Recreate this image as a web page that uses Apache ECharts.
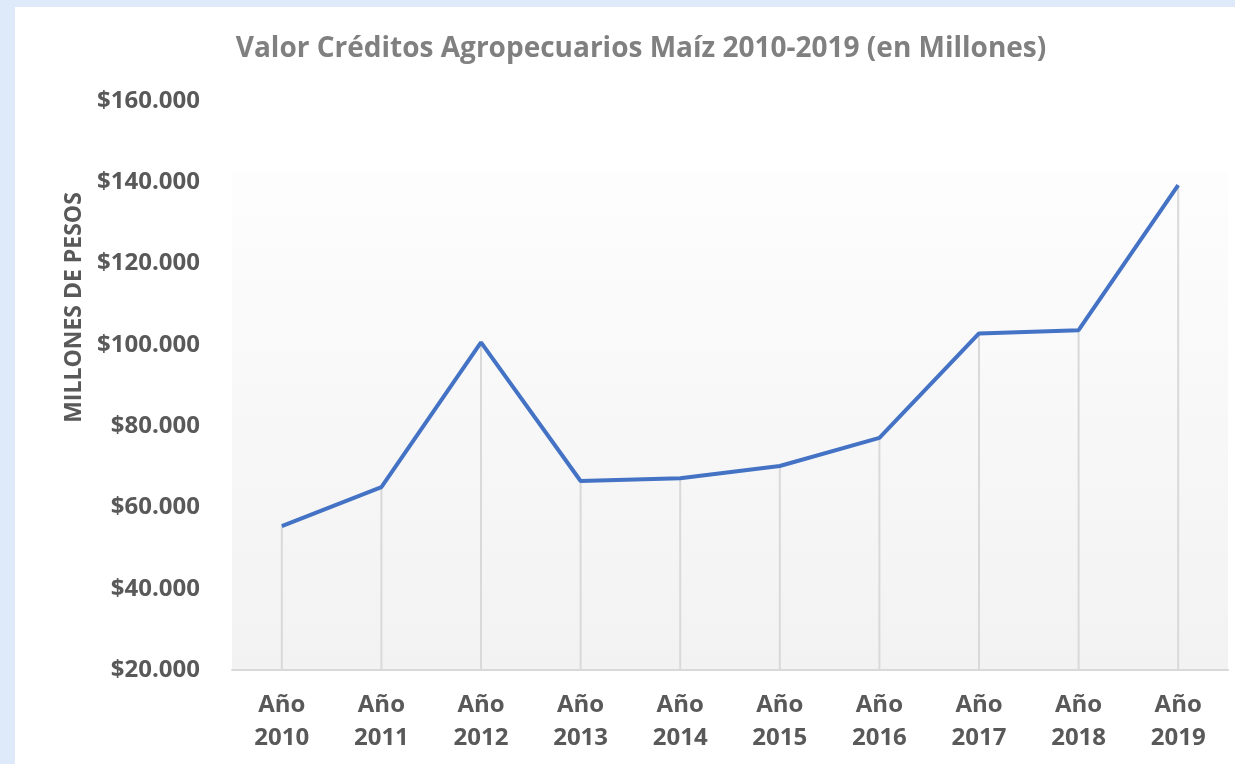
<!DOCTYPE html>
<html lang="es">
<head>
    <meta charset="UTF-8">
    <title>Valor Créditos Agropecuarios Maíz</title>
    <script src="https://cdn.jsdelivr.net/npm/echarts@6/dist/echarts.min.js"></script>
    <style>
        html, body {
            margin: 0;
            padding: 0;
            background-color: #dee9f9;
        }
        .panel {
            position: absolute;
            left: 15px;
            top: 7px;
            width: 1220px;
            height: 757px;
            background-color: #ffffff;
        }
        #main {
            position: absolute;
            left: 0;
            top: 0;
            width: 1235px;
            height: 764px;
        }
    </style>
</head>
<body>
<div class="panel"></div>
<div id="main"></div>

<script>
    // datos (millones de pesos)
    var years = ['2010', '2011', '2012', '2013', '2014', '2015', '2016', '2017', '2018', '2019'];
    var valores = [55400, 65000, 100600, 66500, 67200, 70200, 77100, 102800, 103600, 139300];
    var yTicks = [20000, 40000, 60000, 80000, 100000, 120000, 140000, 160000];

    var categorias = years.map(function (y) { return 'Año\n' + y; });

    function formatoPesos(v) {
        return '$' + String(v).replace(/\B(?=(\d{3})+(?!\d))/g, '.');
    }

    var myChart = echarts.init(document.getElementById('main'));

    var option = {
        animation: false,
        title: {
            text: 'Valor Créditos Agropecuarios Maíz 2010-2019 (en Millones)',
            left: 636,
            top: 30,
            textAlign: 'center',
            textStyle: {
                fontFamily: 'Open Sans',
                fontWeight: 'bold',
                fontSize: 28,
                color: '#808080'
            }
        },
        grid: {
            left: 232,
            right: 7,
            top: 101,
            bottom: 94,
            show: true,
            borderWidth: 0,
            backgroundColor: {
                type: 'linear',
                x: 0, y: 0, x2: 0, y2: 1,
                colorStops: [
                    {offset: 0, color: '#ffffff'},
                    {offset: 0.125, color: '#ffffff'},
                    {offset: 0.128, color: '#fdfdfd'},
                    {offset: 1, color: '#f2f2f2'}
                ]
            }
        },
        xAxis: {
            type: 'category',
            data: categorias,
            boundaryGap: true,
            axisLine: {lineStyle: {color: '#d9d9d9', width: 2}},
            axisTick: {show: false},
            axisLabel: {
                margin: 19,
                fontFamily: 'Open Sans',
                fontWeight: 'bold',
                fontSize: 24,
                lineHeight: 33,
                color: '#595959'
            }
        },
        yAxis: {
            type: 'value',
            min: 20000,
            max: 160000,
            interval: 20000,
            name: 'MILLONES DE PESOS',
            nameLocation: 'middle',
            nameRotate: 90,
            nameGap: 138,
            nameTextStyle: {
                fontFamily: 'Open Sans',
                fontWeight: 'bold',
                fontSize: 23,
                color: '#595959',
                padding: [0, 0, 0, 156]
            },
            axisLine: {show: false},
            axisTick: {show: false},
            splitLine: {show: false},
            axisLabel: {
                margin: 32,
                fontFamily: 'Open Sans',
                fontWeight: 'bold',
                fontSize: 24,
                color: '#595959',
                formatter: function (v) {
                    return yTicks.indexOf(v) >= 0 ? formatoPesos(v) : '';
                }
            }
        },
        series: [
            {
                // lineas de caida desde cada punto al eje
                name: 'drop',
                type: 'bar',
                barWidth: 2,
                silent: true,
                itemStyle: {color: '#d9d9d9'},
                data: valores
            },
            {
                name: 'Valor',
                type: 'line',
                symbol: 'none',
                lineStyle: {color: '#4472c4', width: 4},
                data: valores
            }
        ]
    };

    myChart.setOption(option);
</script>
</body>
</html>
